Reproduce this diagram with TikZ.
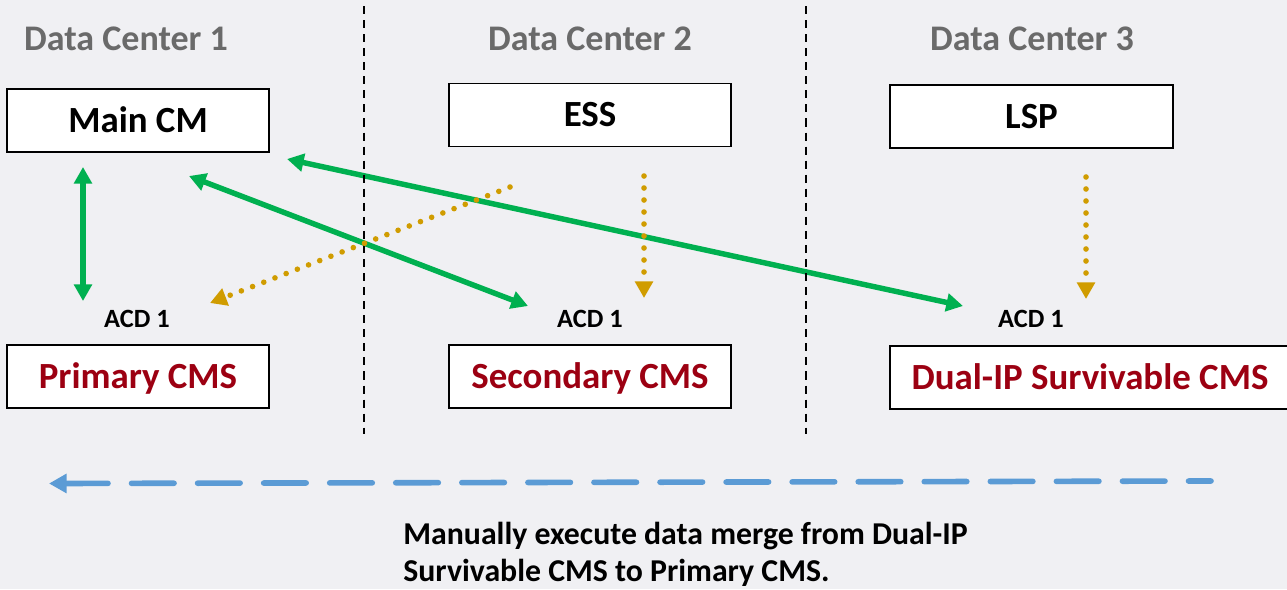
\documentclass[tikz,border=0pt]{standalone}
\usepackage{fontspec}
\setmainfont{Carlito}
\usetikzlibrary{positioning,arrows.meta}
\definecolor{bggray}{HTML}{F0F0F3}
\definecolor{dcgray}{HTML}{6A6A6A}
\definecolor{cmsred}{HTML}{9C0012}
\definecolor{linkgreen}{HTML}{00B050}
\definecolor{essgold}{HTML}{D09C00}
\definecolor{mergeblue}{HTML}{5B9BD5}
\tikzset{
  dc/.style={font=\fontsize{20.5}{24}\selectfont\bfseries, text=dcgray, anchor=base},
  server/.style={draw=black, fill=white, line width=0.9pt, minimum height=1.26cm,
    text height=13.3pt, text depth=0pt, font=\fontsize{21}{25}\selectfont\bfseries},
  cms/.style={server, text=cmsred},
  acd/.style={font=\fontsize{15}{17}\selectfont\bfseries, anchor=base},
  divider/.style={draw=black, line width=1.5pt, dash pattern=on 4.6pt off 3.4pt},
  link/.style={draw=linkgreen, line width=3.1pt,
    {Triangle[length=9.5pt,width=10pt]}-{Triangle[length=9.5pt,width=10pt]}},
  failover/.style={draw=essgold, line width=3.2pt, line cap=round,
    dash pattern=on 0pt off 6.83pt, -{Triangle[length=9.5pt,width=10pt]}},
  merge/.style={draw=mergeblue, line width=3.2pt, line cap=round,
    dash pattern=on 24.2pt off 13.4pt, {Triangle[length=10pt,width=10.5pt]}-}
}
\begin{document}
\begin{tikzpicture}[x=0.02cm, y=-0.02cm]
    \fill[bggray] (0,0) rectangle (1287,589);
    \useasboundingbox (0,0) rectangle (1287,589);

    \node[dc] (dc1) at (126,50) {Data Center 1};
    \node[dc] (dc2) at (590,50) {Data Center 2};
    \node[dc] (dc3) at (1032,50) {Data Center 3};

    \node[server, minimum width=5.24cm] (mainCM) at (138,120.5) {Main CM};
    \node[server, minimum width=5.64cm] (ess) at (590,115) {ESS};
    \node[server, minimum width=5.66cm] (lsp) at (1031.5,116.5) {LSP};

    \node[acd] (acd1) at (137,327) {ACD 1};
    \node[acd] (acd2) at (590,327) {ACD 1};
    \node[acd] (acd3) at (1031,327) {ACD 1};

    \node[cms, minimum width=5.24cm] (primary) at (138,376.5) {Primary CMS};
    \node[cms, minimum width=5.64cm] (secondary) at (590,376.5) {Secondary CMS};
    \node[cms, minimum width=8.0cm] (dualip) at (1090,377.5) {Dual-IP Survivable CMS};

    \coordinate (m1) at (83,167);   \coordinate (p1) at (83,301);
    \coordinate (m2) at (189,176);  \coordinate (s1) at (528,306);
    \coordinate (m3) at (287,159);  \coordinate (d1) at (963,306);
    \coordinate (e1) at (510,187);  \coordinate (p2) at (210,303);
    \coordinate (e2) at (644,176);  \coordinate (s2) at (644,298);
    \coordinate (l1) at (1086,177); \coordinate (d2) at (1086,299);
    \coordinate (v1t) at (364,6);   \coordinate (v1b) at (364,434);
    \coordinate (v2t) at (806,6);   \coordinate (v2b) at (806,434);
    \coordinate (mL) at (49,483.5); \coordinate (mR) at (1211,481);

    \draw[link] (m1) -- (p1);
    \draw[link] (m2) -- (s1);
    \draw[link] (m3) -- (d1);

    \draw[divider] (v1t) -- (v1b);
    \draw[divider] (v2t) -- (v2b);

    \draw[failover] (e1) -- (p2);
    \draw[failover] (e2) -- (s2);
    \draw[failover] (l1) -- (d2);

    \draw[merge] (mL) -- (mR);

    \node[anchor=north west, align=left, inner sep=0pt, font=\fontsize{18.1}{21}\selectfont\bfseries] (note) at (403,522)
      {Manually execute data merge from Dual-IP\\Survivable CMS to Primary CMS.};
  \end{tikzpicture}
\end{document}
